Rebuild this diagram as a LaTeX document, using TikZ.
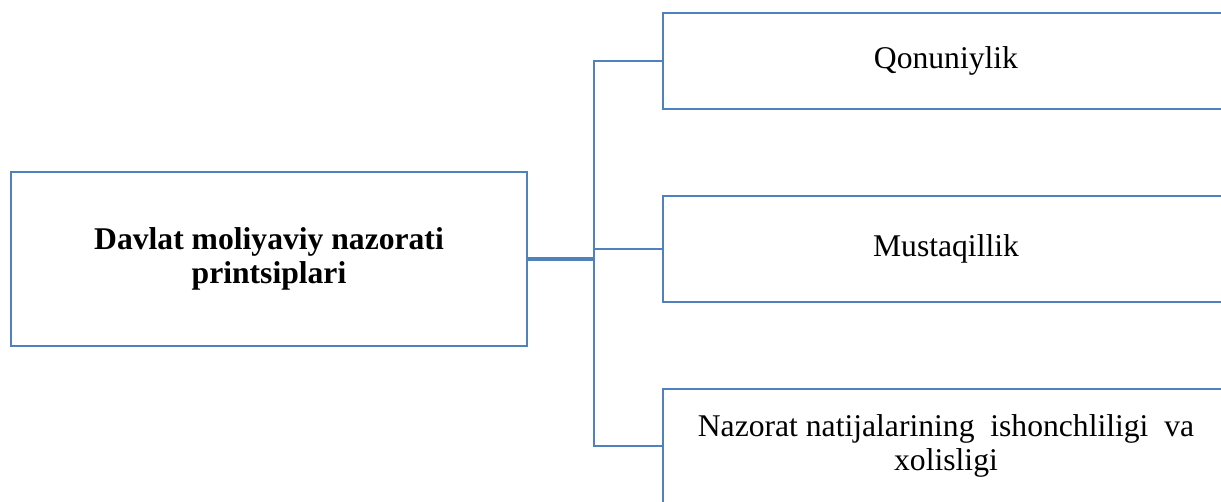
\documentclass[tikz,border=0pt]{standalone}
\usepackage{fontspec}
\setmainfont{Liberation Serif}
\usetikzlibrary{positioning}
\definecolor{boxblue}{RGB}{79,129,189}
\tikzset{
    box/.style={draw=boxblue,line width=1.4pt,align=center,inner sep=0pt,font=\fontsize{18}{19}\selectfont},
    link/.style={draw=boxblue,line width=1.4pt}
}

\begin{document}
\begin{tikzpicture}[x=0.02cm,y=-0.02cm]
\useasboundingbox (0,0) rectangle (1221,501);
\clip (0,0) rectangle (1221,501);
\node[box,minimum width=10.32cm,minimum height=3.48cm] (main) at (269,259) {\textbf{Davlat moliyaviy nazorati}\\\textbf{printsiplari}};
\node[box,minimum width=11.32cm,minimum height=1.92cm] (qon) at (946,61) {Qonuniylik};
\node[box,minimum width=11.32cm,minimum height=2.12cm] (must) at (946,249) {Mustaqillik};
\node[box,minimum width=11.32cm,minimum height=2.28cm] (naz) at (946,446) {Nazorat natijalarining\ \ ishonchliligi\ \ va\\xolisligi};
\coordinate (fork) at (594,259);
\draw[link,line width=2.2pt] (main.east) -- (fork);
\draw[link] (qon.west) -| (fork) |- (naz.west);
\draw[link] (fork |- must.west) -- (must.west);
\end{tikzpicture}
\end{document}
